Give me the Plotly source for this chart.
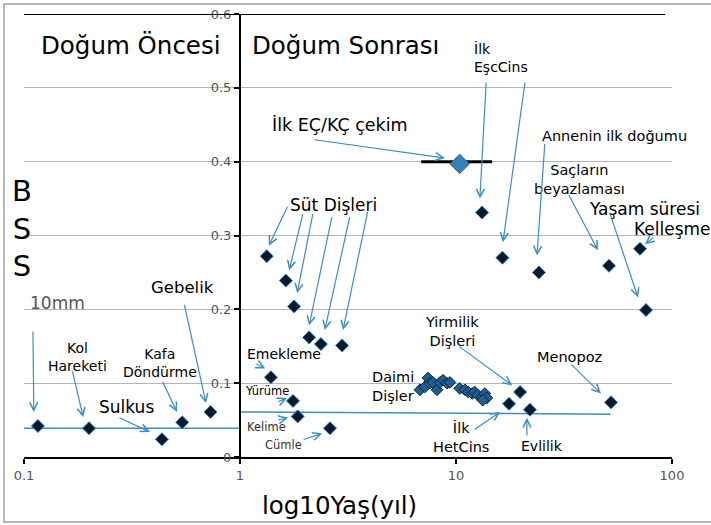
import math
import plotly.graph_objects as go

FONT = "DejaVu Sans"
ARROW = "#3a8fc7"

# ---------------- data ----------------
pre_age = [0.116, 0.20, 0.435, 0.54, 0.73]
pre_bss = [0.042, 0.039, 0.024, 0.047, 0.061]

milk_age = [1.33, 1.63, 1.78, 2.09, 2.37, 2.97]
milk_bss = [0.272, 0.239, 0.204, 0.162, 0.153, 0.151]

early_age = [1.39, 1.76, 1.85, 2.61]          # Emekleme, Yürüme, Kelime, Cümle
early_bss = [0.108, 0.076, 0.055, 0.039]

perm_age = [6.81, 7.18, 7.42, 7.58, 7.83, 8.17, 8.43, 8.71, 9.09, 9.38,
            10.4, 11.0, 11.4, 11.9, 12.2, 12.6, 13.2, 13.6, 13.9, 13.3]
perm_bss = [0.091, 0.095, 0.107, 0.100, 0.101, 0.091, 0.101, 0.104, 0.100, 0.101,
            0.093, 0.091, 0.088, 0.086, 0.088, 0.084, 0.081, 0.086, 0.080, 0.077]

late_age = [13.2, 16.4, 24.2, 51.1, 71.1, 75.8, 19.8, 17.6, 22.0, 52.2]
late_bss = [0.331, 0.270, 0.250, 0.259, 0.282, 0.199, 0.088, 0.072, 0.064, 0.074]

ecs_age = [10.4]
ecs_bss = [0.397]
ecs_range = [6.9, 14.7]

ref_pre_x = [0.1, 1.0]
ref_pre_y = [0.039, 0.039]
ref_post_x = [1.0, 52.0]
ref_post_y = [0.061, 0.058]

xticks = [0.1, 1, 10, 100]
xticktext = ["0.1", "1", "10", "100"]
yticks = [0, 0.1, 0.2, 0.3, 0.4, 0.5, 0.6]
yticktext = ["0", "0.1", "0.2", "0.3", "0.4", "0.5", "0.6"]

# labels: (text, age, bss, size, xanchor, color)
labels = [
    ("Doğum Öncesi", 0.83, 0.557, 24.5, "right", "black"),
    ("Doğum Sonrası", 1.11, 0.557, 24.5, "left", "black"),
    ("İlk<br>EşcCins", 11.9, 0.541, 14, "left", "black"),
    ("İlk EÇ/KÇ çekim", 1.38, 0.450, 17.5, "left", "black"),
    ("Annenin ilk doğumu", 24.5, 0.435, 14.5, "left", "black"),
    ("Saçların<br>beyazlaması", 37.5, 0.376, 14.5, "center", "black"),
    ("Yaşam süresi", 40.4, 0.336, 17, "left", "black"),
    ("Kelleşme", 65.3, 0.309, 17, "left", "black"),
    ("Süt Dişleri", 1.67, 0.341, 17, "left", "black"),
    ("10mm", 0.1045, 0.208, 17, "left", "#555555"),
    ("Kol<br>Hareketi", 0.176, 0.135, 14, "center", "black"),
    ("Kafa<br>Döndürme", 0.426, 0.127, 14, "center", "black"),
    ("Gebelik", 0.539, 0.230, 16.5, "center", "black"),
    ("Sulkus", 0.218, 0.068, 17, "left", "black"),
    ("Emekleme", 1.05, 0.139, 14, "left", "black"),
    ("Yürüme", 1.03, 0.089, 11.5, "left", "black"),
    ("Kelime", 1.05, 0.041, 11.5, "left", "#333333"),
    ("Cümle", 1.28, 0.016, 11.5, "left", "#333333"),
    ("Daimi<br>Dişler", 4.0, 0.096, 14.5, "left", "black"),
    ("Yirmilik<br>Dişleri", 9.58, 0.170, 14.5, "center", "black"),
    ("İlk<br>HetCins", 10.5, 0.027, 14.5, "center", "black"),
    ("Evlilik", 25.0, 0.015, 14, "center", "black"),
    ("Menopoz", 33.4, 0.135, 14.5, "center", "black"),
]

# arrows: (tail age, tail bss, head age, head bss)
arrows = [
    (2.18, 0.430, 8.89, 0.405),
    (13.8, 0.509, 12.9, 0.350),
    (20.9, 0.509, 16.5, 0.291),
    (25.8, 0.426, 23.7, 0.273),
    (33.0, 0.357, 45.4, 0.280),
    (51.6, 0.330, 69.6, 0.216),
    (83.4, 0.299, 75.0, 0.288),
    (1.67, 0.341, 1.36, 0.286),
    (1.96, 0.331, 1.69, 0.253),
    (2.18, 0.331, 1.84, 0.222),
    (2.67, 0.327, 2.09, 0.178),
    (3.23, 0.327, 2.47, 0.172),
    (3.91, 0.334, 3.00, 0.172),
    (0.110, 0.172, 0.111, 0.061),
    (0.167, 0.118, 0.188, 0.054),
    (0.435, 0.104, 0.511, 0.061),
    (0.551, 0.208, 0.696, 0.073),
    (0.272, 0.054, 0.383, 0.034),
    (1.17, 0.127, 1.31, 0.120),
    (1.48, 0.074, 1.65, 0.080),
    (1.48, 0.050, 1.67, 0.053),
    (1.94, 0.023, 2.40, 0.032),
    (10.2, 0.151, 18.2, 0.097),
    (12.0, 0.036, 16.0, 0.061),
    (21.3, 0.027, 21.3, 0.053),
    (33.7, 0.127, 46.9, 0.086),
]

# ---------------- figure ----------------
fig = go.Figure()

fig.add_trace(go.Scatter(x=ref_pre_x, y=ref_pre_y, mode="lines",
                         line=dict(color=ARROW, width=1.5), hoverinfo="skip"))
fig.add_trace(go.Scatter(x=ref_post_x, y=ref_post_y, mode="lines",
                         line=dict(color=ARROW, width=1.5), hoverinfo="skip"))
fig.add_trace(go.Scatter(x=ecs_range, y=[ecs_bss[0] + 0.003, ecs_bss[0] + 0.003], mode="lines",
                         line=dict(color="black", width=3), hoverinfo="skip"))

dmark = dict(symbol="diamond", size=10, color="#071a2b",
             line=dict(color="#2f7fb8", width=1))
for xs, ys in [(pre_age, pre_bss), (milk_age, milk_bss), (early_age, early_bss),
               (late_age, late_bss)]:
    fig.add_trace(go.Scatter(x=xs, y=ys, mode="markers", marker=dmark))

fig.add_trace(go.Scatter(x=perm_age, y=perm_bss, mode="markers",
                         marker=dict(symbol="diamond", size=9, color="#1d5f8e",
                                     line=dict(color="#0a2540", width=1))))
fig.add_trace(go.Scatter(x=ecs_age, y=ecs_bss, mode="markers",
                         marker=dict(symbol="diamond", size=15, color="#3580b5",
                                     line=dict(color="#2a6c9c", width=1))))

annotations = []
for t, x, y, s, xa, c in labels:
    annotations.append(dict(x=math.log10(x), y=y, xref="x", yref="y", text=t,
                            showarrow=False, xanchor=xa, yanchor="middle",
                            align=xa,
                            font=dict(family=FONT, size=s, color=c)))
for tx, ty, hx, hy in arrows:
    annotations.append(dict(x=math.log10(hx), y=hy, ax=math.log10(tx), ay=ty,
                            xref="x", yref="y", axref="x", ayref="y", text="",
                            showarrow=True, arrowhead=5, arrowsize=1.3,
                            arrowwidth=1.2, arrowcolor=ARROW, standoff=0))
annotations.append(dict(x=-0.003, y=0.515, xref="paper", yref="paper",
                        text="B<br>S<br>S", showarrow=False, xanchor="center",
                        yanchor="middle",
                        font=dict(family=FONT, size=29, color="black")))
annotations.append(dict(x=0.487, y=-0.11, xref="paper", yref="paper",
                        text="log10Yaş(yıl)", showarrow=False, xanchor="center",
                        yanchor="middle",
                        font=dict(family=FONT, size=24.5, color="black")))

shapes = [
    dict(type="line", xref="x", yref="y", x0=0.097, x1=93, y0=0.6, y1=0.6,
         line=dict(color="black", width=2), layer="above"),
    dict(type="rect", xref="paper", yref="paper", x0=-0.031, x1=1.07, y0=-0.147, y1=1.0226,
         line=dict(color="#a0a0a0", width=1.5), layer="below"),
]

fig.update_layout(
    width=711, height=525, autosize=False,
    margin=dict(l=24, r=39, t=14, b=68, autoexpand=False),
    paper_bgcolor="white", plot_bgcolor="white",
    showlegend=False,
    font=dict(family=FONT, color="black"),
    annotations=annotations, shapes=shapes,
    xaxis=dict(type="log", range=[-1, 2], showgrid=False, zeroline=False,
               showline=True, linecolor="black", linewidth=2,
               ticks="outside", ticklen=5, tickwidth=2, tickcolor="black",
               tickvals=xticks, ticktext=xticktext, automargin=False,
               tickfont=dict(family=FONT, size=13, color="#555555")),
    yaxis=dict(range=[0, 0.6], anchor="free", position=1/3, showgrid=True,
               gridcolor="#b5b5b5", gridwidth=1, zeroline=False,
               showline=True, linecolor="black", linewidth=2,
               ticks="outside", ticklen=5, tickwidth=2, tickcolor="black",
               tickvals=yticks, ticktext=yticktext, automargin=False,
               tickfont=dict(family=FONT, size=13, color="#555555")),
)

fig.write_html("out.html", config={"displayModeBar": False},
               post_script="document.body.style.margin='0';document.body.style.overflow='hidden';")
